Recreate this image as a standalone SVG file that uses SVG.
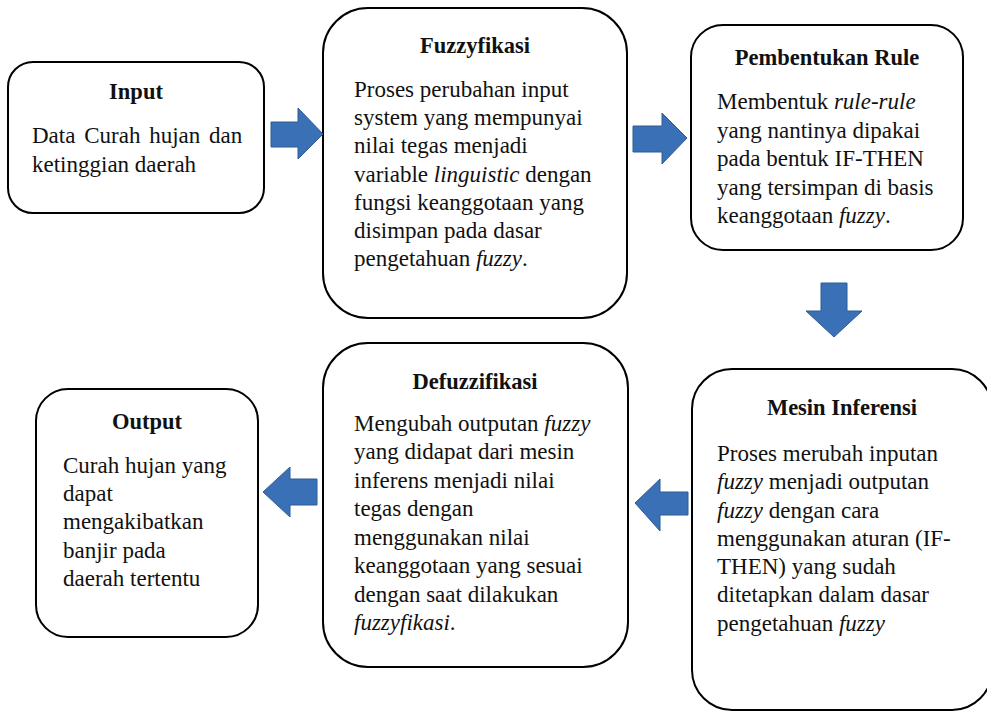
<svg xmlns="http://www.w3.org/2000/svg" width="987" height="713" viewBox="0 0 987 713">
<style>
.box{fill:#ffffff;stroke:#000000;stroke-width:2}
.t{font-family:"Liberation Serif","Times New Roman",serif;font-size:22.5px;font-weight:bold;fill:#111111;text-anchor:middle}
.b{font-family:"Liberation Serif","Times New Roman",serif;font-size:23px;fill:#111111}
.i{font-style:italic}
.arr{fill:#3a70b5;stroke:#2f5c96;stroke-width:1}
</style>
<rect width="987" height="713" fill="#ffffff"/>
<g id="input">
<rect class="box" x="8" y="62" width="256" height="151" rx="25"/>
<text class="t" x="136" y="99">Input</text>
<text class="b" x="32" y="143" word-spacing="3">Data Curah hujan dan</text>
<text class="b" x="32" y="172">ketinggian daerah</text>
</g>
<g id="fuzzyfikasi">
<rect class="box" x="323" y="8" width="304" height="310" rx="45"/>
<text class="t" x="475" y="53">Fuzzyfikasi</text>
<text class="b" x="354" y="97">Proses perubahan input</text>
<text class="b" x="354" y="125">system yang mempunyai</text>
<text class="b" x="354" y="153">nilai tegas menjadi</text>
<text class="b" x="354" y="182">variable <tspan class="i">linguistic</tspan> dengan</text>
<text class="b" x="354" y="210">fungsi keanggotaan yang</text>
<text class="b" x="354" y="238">disimpan pada dasar</text>
<text class="b" x="354" y="266">pengetahuan <tspan class="i">fuzzy</tspan>.</text>
</g>
<g id="pembentukan-rule">
<rect class="box" x="691" y="25" width="272" height="225" rx="32"/>
<text class="t" x="827" y="65">Pembentukan Rule</text>
<text class="b" x="717" y="109">Membentuk <tspan class="i">rule-rule</tspan></text>
<text class="b" x="717" y="138">yang nantinya dipakai</text>
<text class="b" x="717" y="166">pada bentuk IF-THEN</text>
<text class="b" x="717" y="195">yang tersimpan di basis</text>
<text class="b" x="717" y="223">keanggotaan <tspan class="i">fuzzy</tspan>.</text>
</g>
<g id="mesin-inferensi">
<rect class="box" x="692" y="369" width="300" height="341" rx="40"/>
<text class="t" x="842" y="415">Mesin Inferensi</text>
<text class="b" x="717" y="461">Proses merubah inputan</text>
<text class="b" x="717" y="489"><tspan class="i">fuzzy</tspan> menjadi outputan</text>
<text class="b" x="717" y="518"><tspan class="i">fuzzy</tspan> dengan cara</text>
<text class="b" x="717" y="546">menggunakan aturan (IF-</text>
<text class="b" x="717" y="574">THEN) yang sudah</text>
<text class="b" x="717" y="602">ditetapkan dalam dasar</text>
<text class="b" x="717" y="631">pengetahuan <tspan class="i">fuzzy</tspan></text>
</g>
<g id="defuzzifikasi">
<rect class="box" x="323" y="343" width="305" height="324" rx="45"/>
<text class="t" x="475" y="389">Defuzzifikasi</text>
<text class="b" x="354" y="431">Mengubah outputan <tspan class="i">fuzzy</tspan></text>
<text class="b" x="354" y="459">yang didapat dari mesin</text>
<text class="b" x="354" y="488">inferens menjadi nilai</text>
<text class="b" x="354" y="516">tegas dengan</text>
<text class="b" x="354" y="545">menggunakan nilai</text>
<text class="b" x="354" y="573">keanggotaan yang sesuai</text>
<text class="b" x="354" y="602">dengan saat dilakukan</text>
<text class="b" x="354" y="630"><tspan class="i">fuzzyfikasi</tspan>.</text>
</g>
<g id="output">
<rect class="box" x="36" y="389" width="222" height="248" rx="32"/>
<text class="t" x="147" y="429">Output</text>
<text class="b" x="63" y="473">Curah hujan yang</text>
<text class="b" x="63" y="501">dapat</text>
<text class="b" x="63" y="529">mengakibatkan</text>
<text class="b" x="63" y="558">banjir pada</text>
<text class="b" x="63" y="586">daerah tertentu</text>
</g>
<g id="connectors">
<polygon class="arr" points="271,122 298,122 298,108 323,134 298,159 298,147 271,147"/>
<polygon class="arr" points="633,126 662,126 662,113 687,138 662,164 662,152 633,152"/>
<polygon class="arr" points="821,283 847,283 847,311 862,311 834,337 806,311 821,311"/>
<polygon class="arr" points="688,492 660,492 660,479 635,503 660,531 660,515 688,515"/>
<polygon class="arr" points="317,479 290,479 290,467 263,492 290,517 290,505 317,505"/>
</g>
</svg>
